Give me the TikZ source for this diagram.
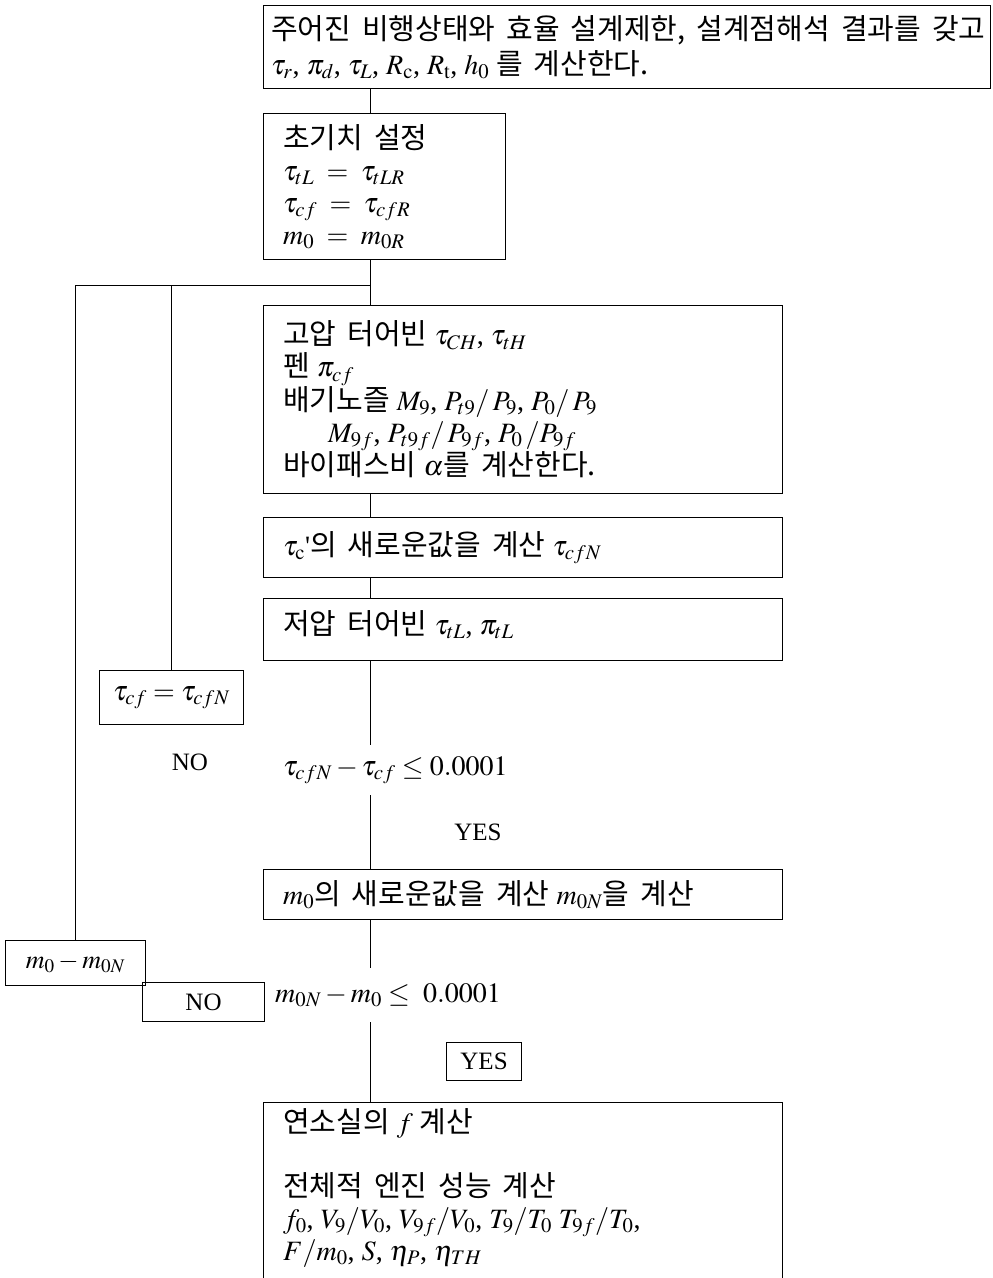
\documentclass[tikz,border=0pt]{standalone}
\usepackage{mathptmx}
\usepackage[no-math]{fontspec}
\setmainfont{Liberation Serif}
\newfontfamily\kr[WordSpace=1.7,Scale=1.035]{Noto Sans CJK KR}
\newcommand{\K}[1]{{\kr #1}}
\begin{document}
\begin{tikzpicture}[x=1pt,y=-1pt]
\tikzset{
  box/.style={draw, line width=1.1pt, rectangle, inner sep=0pt, anchor=north west},
  sbox/.style={draw, line width=1.1pt, rectangle, inner sep=0pt, anchor=north west, font=\fontsize{28}{33}\selectfont},
  txt/.style={anchor=west, align=left, inner sep=0pt, font=\fontsize{28}{33}\selectfont},
  lab/.style={inner sep=0pt, font=\fontsize{28}{33}\selectfont},
  word/.style={inner sep=0pt, font=\fontsize{25}{30}\selectfont},
  conn/.style={line width=1pt},
}
\useasboundingbox (0,0) rectangle (993,1278);
\coordinate (sp) at (370,0);
\coordinate (j) at (370,285);

% boxes
\node[box, minimum width=727pt, minimum height=83pt] (b1) at (263,5) {};
\node[txt, font=\fontsize{28}{35}\selectfont] (t1) at ([xshift=8pt]b1.west)
  {\K{주어진 비행상태와 효율 설계제한, 설계점해석 결과를 갖고}\\
   $\tau_r$, $\pi_d$, $\tau_L$, $R_{\mathrm{c}}$, $R_{\mathrm{t}}$, $h_0$ \K{를 계산한다.}};

\node[box, minimum width=242pt, minimum height=146pt] (b2) at (263,113) {};
\node[txt, font=\fontsize{28}{32}\selectfont] (t2) at ([xshift=20pt]b2.west)
  {\K{초기치 설정}\\
   $\tau_{tL} \;=\; \tau_{tLR}$\\
   $\tau_{cf} \;=\; \tau_{cfR}$\\
   $m_0 \;=\; m_{0R}$};

\node[box, minimum width=519pt, minimum height=188pt] (b3) at (263,305) {};
\node[txt, font=\fontsize{28}{32}\selectfont] (t3) at ([xshift=20pt]b3.west)
  {\K{고압 터어빈} $\tau_{CH}$, $\tau_{tH}$\\
   \K{펜} $\pi_{cf}$\\
   \K{배기노즐} $M_9$, $P_{t9}/\,P_9$, $P_0/\,P_9$\\
   \hspace*{45pt}$M_{9f}$, $P_{t9f}/\,P_{9f}$, $P_0\,/P_{9f}$\\
   \K{바이패스비} $\alpha$\K{를 계산한다.}};

\node[box, minimum width=519pt, minimum height=60pt] (b4) at (263,517) {};
\node[txt] (t4) at ([xshift=20pt]b4.west)
  {$\tau_{\mathrm{c}}$\textquotesingle\K{의 새로운값을 계산} $\tau_{cfN}$};

\node[box, minimum width=519pt, minimum height=62pt] (b5) at (263,598) {};
\node[txt] (t5) at ([xshift=20pt,yshift=5pt]b5.west)
  {\K{저압 터어빈} $\tau_{tL}$, $\pi_{tL}$};

\node[sbox, minimum width=144pt, minimum height=54pt] (bcf) at (99,670) {$\tau_{cf} = \tau_{cfN}$};

\node[word] (no1) at (190,762) {NO};
\node[lab, minimum height=50pt, anchor=west] (c1) at (283,770) {$\tau_{cfN} - \tau_{cf} \le 0.0001$};
\node[word] (yes1) at (478,832) {YES};

\node[box, minimum width=519pt, minimum height=50pt] (b6) at (263,869) {};
\node[txt] (t6) at ([xshift=20pt]b6.west)
  {$m_0$\K{의 새로운값을 계산} $m_{0N}$\K{을 계산}};

\node[sbox, minimum width=140pt, minimum height=45pt, font=\fontsize{26}{30}\selectfont] (bm) at (5,940) {$m_0 - m_{0N}$};
\node[sbox, minimum width=122pt, minimum height=39pt, font=\fontsize{25}{30}\selectfont] (bno) at (142,982) {NO};
\node[lab, minimum height=54pt, anchor=west] (c2) at (275,995) {$m_{0N} - m_0 \le\ 0.0001$};
\node[sbox, minimum width=75pt, minimum height=38pt, font=\fontsize{25}{30}\selectfont] (yesb) at (446,1042) {YES};

\node[box, minimum width=519pt, minimum height=260pt] (b7) at (263,1102) {};
\node[txt, anchor=north west, font=\fontsize{28}{32}\selectfont] (t7) at ([shift={(20pt,-6pt)}]b7.north west)
  {\K{연소실의} $f$ \K{계산}\\[32pt]
   \K{전체적 엔진 성능 계산}\\
   $f_0$, $V_9/V_0$, $V_{9f}/V_0$, $T_9/T_0$ $T_{9f}/T_0$,\\
   $F/m_0$, $S$, $\eta_P$, $\eta_{TH}$};

% connectors
\draw[conn] (b1.south -| sp) -- (b2.north -| sp);
\draw[conn] (b2.south -| sp) -- (b3.north -| sp);
\draw[conn] (j) -| (bm.north);
\draw[conn] (bcf.north) -- (bcf.north |- j);
\draw[conn] (b3.south -| sp) -- (b4.north -| sp);
\draw[conn] (b4.south -| sp) -- (b5.north -| sp);
\draw[conn] (b5.south -| sp) -- (c1.north -| sp);
\draw[conn] (c1.south -| sp) -- (b6.north -| sp);
\draw[conn] (b6.south -| sp) -- (c2.north -| sp);
\draw[conn] (c2.south -| sp) -- (b7.north -| sp);
\end{tikzpicture}
\end{document}
